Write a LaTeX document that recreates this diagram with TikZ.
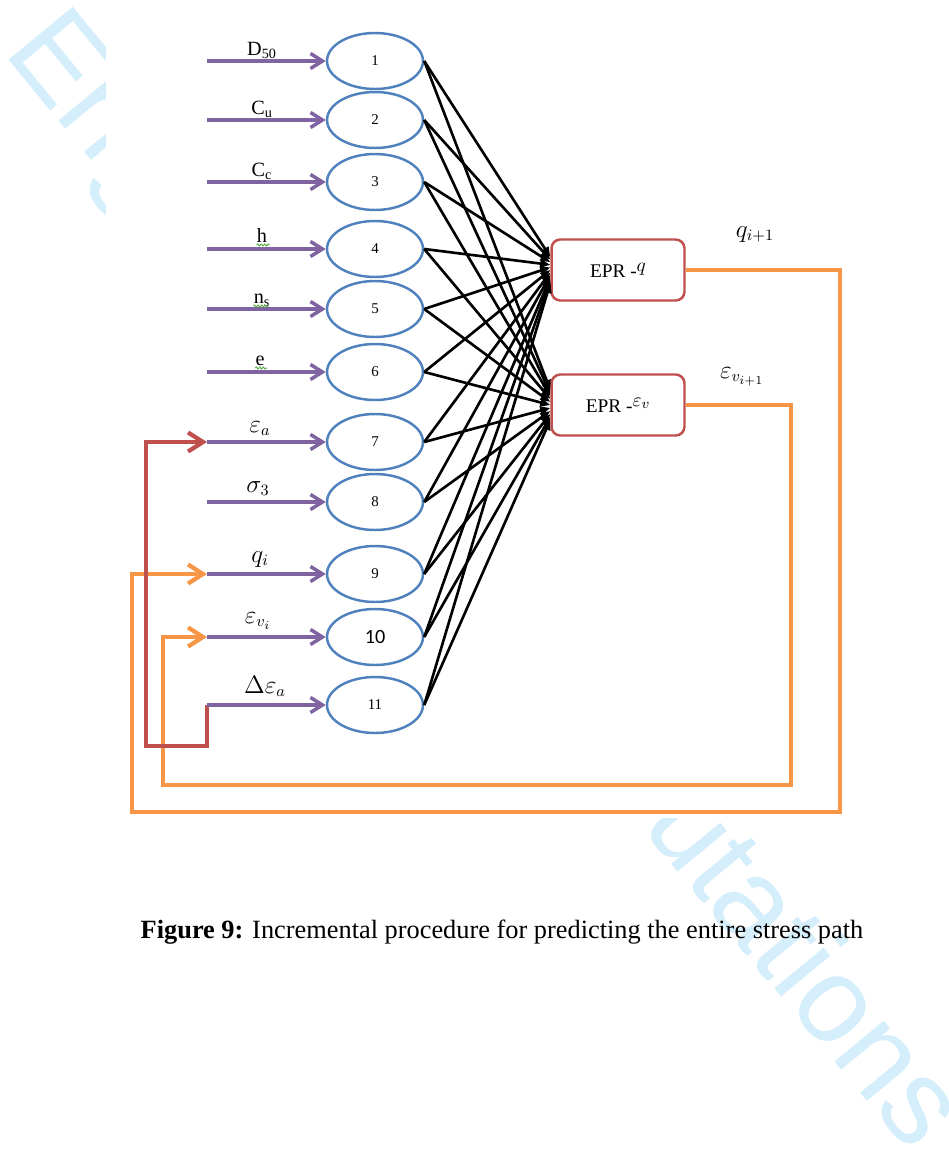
\documentclass[tikz,border=0pt]{standalone}
\usepackage{fontspec}
\setmainfont{Liberation Serif}
\newfontfamily\wmfont{Liberation Sans}
\newfontfamily\calfont{Carlito}
\usetikzlibrary{positioning,arrows.meta,calc,shapes.geometric,decorations.pathmorphing}
\definecolor{nodeblue}{RGB}{79,129,189}
\definecolor{inpurple}{RGB}{128,100,162}
\definecolor{eprred}{RGB}{192,80,77}
\definecolor{fborange}{RGB}{247,150,70}
\definecolor{wmcyan}{RGB}{213,238,251}
\definecolor{squiggreen}{RGB}{80,170,60}
\begin{document}
\begin{tikzpicture}[x=0.02cm,y=-0.02cm,
  neuron/.style={draw=nodeblue,line width=1.4pt,ellipse,minimum width=19.2mm,
    minimum height=11.2mm,inner sep=0pt,font=\fontsize{8.5}{10}\selectfont},
  epr/.style={draw=eprred,line width=1.4pt,rounded corners=5pt,minimum width=26.6mm,
    minimum height=12.2mm,inner sep=0pt,font=\fontsize{11}{13}\selectfont},
  inarr/.style={draw=inpurple,line width=2pt,-{Straight Barb[length=2.4mm,width=3mm]}},
  fan/.style={line width=1.5pt,-{Triangle[length=2mm,width=1.6mm]}},
  fb/.style={line width=2.4pt,-{Straight Barb[length=3mm,width=3.8mm]}},
  lbl/.style={anchor=base,inner sep=0pt,font=\fontsize{11.5}{13}\selectfont},
  mlbl/.style={anchor=base,inner sep=0pt,font=\fontsize{13.5}{15}\selectfont},
  squig/.style={draw=squiggreen,line width=0.5pt,decorate,
    decoration={snake,amplitude=0.6pt,segment length=2pt}}]
  \useasboundingbox (0,0) rectangle (948,1173);
  \clip (0,0) rectangle (948,1173);
  % ---- watermark behind the figure ----
  \node[font=\wmfont\fontsize{69}{72}\selectfont,text=wmcyan,anchor=base west,
     inner sep=0pt,rotate=-50.5] (wm) at (2,52) {Engineering Computations};
  \fill[white] (106,0) rectangle (880,818);
  % ---- input layer ----
  \node[neuron] (n1) at (375,61) {1};
  \node[neuron] (n2) at (375,120) {2};
  \node[neuron] (n3) at (375,182) {3};
  \node[neuron] (n4) at (375,249) {4};
  \node[neuron] (n5) at (375,309) {5};
  \node[neuron] (n6) at (375,372) {6};
  \node[neuron] (n7) at (375,442) {7};
  \node[neuron] (n8) at (375,502) {8};
  \node[neuron] (n9) at (375,574) {9};
  \node[neuron] (n10) at (375,637) {\calfont\fontsize{11.5}{13}\selectfont 10};
  \node[neuron] (n11) at (375,705) {11};
  \foreach \i/\y in {1/61,2/120,3/182,4/249,5/309,6/372,7/442,8/502,9/574,10/637,11/705}
     \coordinate (in\i) at (207,\y);
  % ---- EPR models ----
  \node[epr] (eprq) at (618,270) {EPR -\raisebox{0.7ex}{$q$}};
  \node[epr] (eprv) at (618,405) {EPR -\raisebox{0.7ex}{$\varepsilon_v$}};
  \foreach \i in {1,...,11}{
    \draw[fan] (n\i.east) -- ($(eprq.west)+(0,{(\i-6)*2.6})$);
    \draw[fan] (n\i.east) -- ($(eprv.west)+(0,{(\i-6)*3})$);
  }
  % ---- feedback loops ----
  \draw[fb,fborange] (eprq.east) -- ++(154,0) -- ++(0,542) -| ($(in9)+(-75,0)$) -- (in9);
  \draw[fb,fborange] (eprv.east) -- ++(105,0) -- ++(0,380) -| ($(in10)+(-44,0)$) -- (in10);
  \draw[fb,eprred] (in11) -- ++(0,41) -| ($(in7)+(-61,0)$) -- (in7);
  \foreach \i in {1,...,11}
     \draw[inarr] (in\i) -- (n\i);
  % ---- labels ----
  \node[lbl] (l1) at (262,55) {D\textsubscript{50}};
  \node[lbl] (l2) at (262,114) {C\textsubscript{u}};
  \node[lbl] (l3) at (262,176) {C\textsubscript{c}};
  \node[lbl] (l4) at (262,242) {h};
  \node[lbl] (l5) at (262,303) {n\textsubscript{s}};
  \node[lbl] (l6) at (260,365) {e};
  \node[mlbl] (l7) at (260,432) {$\varepsilon_a$};
  \node[mlbl] (l8) at (258,492) {$\sigma_3$};
  \node[mlbl] (l9) at (260,562) {$q_i$};
  \node[mlbl] (l10) at (258,623) {$\varepsilon_{v_i}$};
  \node[mlbl] (l11) at (265,693) {$\Delta\varepsilon_a$};
  \draw[squig] ($(l4.base west)+(0,3)$) -- ++(13,0);
  \draw[squig] ($(l5.base west)+(0,3)$) -- ++(15,0);
  \draw[squig] ($(l6.base west)+(0,3)$) -- ++(12,0);
  \node[mlbl] (lq) at (755,237) {$q_{i+1}$};
  \node[mlbl] (lv) at (742,378) {$\varepsilon_{v_{i+1}}$};
  % ---- caption ----
  \node[anchor=base,inner sep=0pt,font=\fontsize{15}{17}\selectfont] (cap) at (502,938)
     {\textbf{Figure 9:} Incremental procedure for predicting the entire stress path};
\end{tikzpicture}
\end{document}
